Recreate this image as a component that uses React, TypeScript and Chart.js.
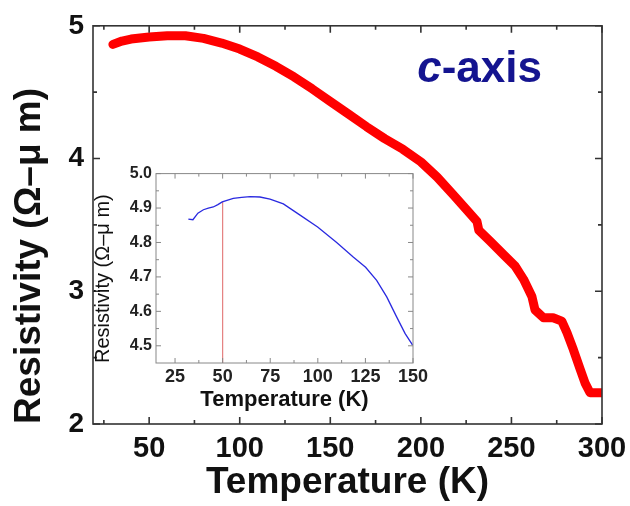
import { useEffect, useRef } from "react";
import { Chart, registerables } from "chart.js";

Chart.register(...registerables);

const FONT = "'Liberation Sans', Arial, Helvetica, sans-serif";

// Main panel: c-axis resistivity vs temperature
const mainT = [30, 35, 40, 50, 60, 70, 80, 90, 100, 110, 120, 130, 140, 150, 160, 170, 180, 190, 200, 209, 218, 225.5, 231, 232, 238.4, 245.7, 252, 256.7, 261.3, 263, 267.7, 273, 277.8, 280.6, 284.2, 288, 290.6, 293.4, 300];
const mainRho = [4.86, 4.885, 4.9, 4.915, 4.925, 4.925, 4.905, 4.87, 4.825, 4.765, 4.695, 4.615, 4.525, 4.43, 4.335, 4.24, 4.15, 4.07, 3.975, 3.86, 3.725, 3.61, 3.525, 3.46, 3.375, 3.275, 3.19, 3.09, 2.96, 2.86, 2.8, 2.8, 2.775, 2.69, 2.56, 2.41, 2.31, 2.235, 2.235];
const mainXTicks = [50, 100, 150, 200, 250, 300];
const mainXMinor = [25, 75, 125, 175, 225, 275];
const mainYTicks = [2, 3, 4, 5];
const mainYMinor = [2.5, 3.5, 4.5];

// Inset: low-temperature detail
const insetT = [32, 34.4, 37, 39.9, 42.5, 45.1, 47.5, 49.8, 55.6, 60, 64.4, 69.6, 74.9, 81.9, 89.7, 99.9, 109.9, 118.6, 125.1, 130.9, 136.2, 141.4, 145.8, 149.8];
const insetRho = [4.868, 4.866, 4.885, 4.895, 4.9, 4.903, 4.91, 4.918, 4.928, 4.931, 4.933, 4.932, 4.926, 4.912, 4.883, 4.845, 4.8, 4.758, 4.728, 4.69, 4.642, 4.584, 4.536, 4.502];
const insetXTicks = [25, 50, 75, 100, 125, 150];
const insetXMinor = [37.5, 62.5, 87.5, 112.5, 137.5];
const insetYTicks = [4.5, 4.6, 4.7, 4.8, 4.9, 5.0];
const insetYMinor = [4.55, 4.65, 4.75, 4.85, 4.95];
const markerT = [50, 50];
const markerRho = [4.45, 4.918];

function framePlugin(id: string, color: string, lw: number, major: number, minor: number,
  xMaj: number[], xMin: number[], yMaj: number[], yMin: number[]) {
  return {
    id,
    afterDatasetsDraw(chart: any) {
      const { ctx, chartArea: a, scales } = chart;
      const xs = scales.x, ys = scales.y;
      ctx.save();
      ctx.strokeStyle = color;
      ctx.lineWidth = lw;
      ctx.strokeRect(a.left, a.top, a.right - a.left, a.bottom - a.top);
      const dx = (vals: number[], len: number) => vals.forEach((v) => {
        const p = xs.getPixelForValue(v);
        ctx.beginPath();
        ctx.moveTo(p, a.bottom); ctx.lineTo(p, a.bottom - len);
        ctx.moveTo(p, a.top); ctx.lineTo(p, a.top + len);
        ctx.stroke();
      });
      const dy = (vals: number[], len: number) => vals.forEach((v) => {
        const p = ys.getPixelForValue(v);
        ctx.beginPath();
        ctx.moveTo(a.left, p); ctx.lineTo(a.left + len, p);
        ctx.moveTo(a.right, p); ctx.lineTo(a.right - len, p);
        ctx.stroke();
      });
      dx(xMaj, major); dx(xMin, minor); dy(yMaj, major); dy(yMin, minor);
      ctx.restore();
    },
  };
}

const labelPlugin = {
  id: "caxisLabel",
  afterDraw(chart: any) {
    const { ctx, scales } = chart;
    const x = scales.x.getPixelForValue(198);
    const y = scales.y.getPixelForValue(4.58);
    ctx.save();
    ctx.fillStyle = "#141490";
    ctx.textBaseline = "alphabetic";
    ctx.textAlign = "left";
    ctx.font = `italic bold 44px ${FONT}`;
    ctx.fillText("c", x, y);
    const w = ctx.measureText("c").width;
    ctx.font = `bold 44px ${FONT}`;
    ctx.fillText("-axis", x + w, y);
    ctx.restore();
  },
};

const noSidePad = (s: any) => { s.paddingLeft = 0; s.paddingRight = 0; };

export default function App() {
  const mainRef = useRef<HTMLCanvasElement>(null);
  const insetRef = useRef<HTMLCanvasElement>(null);

  useEffect(() => {
    Chart.defaults.font.family = FONT;
    const main = new Chart(mainRef.current!, {
      type: "line",
      data: {
        datasets: [{
          data: mainT.map((t, i) => ({ x: t, y: mainRho[i] })),
          borderColor: "#ff0000",
          borderWidth: 9,
          pointRadius: 0,
          tension: 0,
          borderCapStyle: "round",
          borderJoinStyle: "round",
        }],
      },
      options: {
        responsive: false,
        animation: false,
        devicePixelRatio: 1,
        layout: { padding: { top: 25, right: 28, left: 0, bottom: 0 } },
        plugins: { legend: { display: false }, tooltip: { enabled: false } },
        scales: {
          x: {
            type: "linear", min: 19, max: 300,
            grid: { display: false, drawTicks: false },
            border: { display: false },
            afterBuildTicks: (s: any) => { s.ticks = mainXTicks.map((v) => ({ value: v })); },
            afterFit: (s: any) => { s.height = 82; noSidePad(s); },
            ticks: { font: { size: 29, weight: "bold" }, color: "#111", padding: 8, maxRotation: 0, autoSkip: false },
            title: { display: true, text: "Temperature (K)", color: "#111", font: { size: 37, weight: "bold" }, padding: { top: 0, bottom: 1 } },
          },
          y: {
            type: "linear", min: 2, max: 5,
            grid: { display: false, drawTicks: false },
            border: { display: false },
            afterBuildTicks: (s: any) => { s.ticks = mainYTicks.map((v) => ({ value: v })); },
            afterFit: (s: any) => { s.width = 93; },
            ticks: { font: { size: 28, weight: "bold" }, color: "#111", padding: 9 },
            title: { display: true, text: "Resistivity (Ω–μ m)", align: "start", color: "#111", font: { size: 37, weight: "bold" }, padding: { top: 8, bottom: 0 } },
          },
        },
      } as any,
      plugins: [framePlugin("mainFrame", "#333", 1.6, 7, 4, mainXTicks, mainXMinor, mainYTicks, mainYMinor), labelPlugin],
    });

    const inset = new Chart(insetRef.current!, {
      type: "line",
      data: {
        datasets: [
          {
            data: insetT.map((t, i) => ({ x: t, y: insetRho[i] })),
            borderColor: "#2a2ae0",
            borderWidth: 1.3,
            pointRadius: 0,
            tension: 0,
          },
          {
            data: markerT.map((t, i) => ({ x: t, y: markerRho[i] })),
            borderColor: "#e58080",
            borderWidth: 1.2,
            pointRadius: 0,
            tension: 0,
          },
        ],
      },
      options: {
        responsive: false,
        animation: false,
        devicePixelRatio: 1,
        layout: { padding: { top: 13, right: 15, left: 0, bottom: 0 } },
        plugins: { legend: { display: false }, tooltip: { enabled: false } },
        scales: {
          x: {
            type: "linear", min: 15, max: 150,
            grid: { display: false, drawTicks: false },
            border: { display: false },
            afterBuildTicks: (s: any) => { s.ticks = insetXTicks.map((v) => ({ value: v })); },
            afterFit: (s: any) => { s.height = 62; noSidePad(s); },
            ticks: { font: { size: 18, weight: "bold" }, color: "#222", padding: 3, maxRotation: 0, autoSkip: false },
            title: { display: true, text: "Temperature (K)", color: "#111", font: { size: 22, weight: "bold" }, padding: { top: 0, bottom: 12 } },
          },
          y: {
            type: "linear", min: 4.45, max: 5.0,
            grid: { display: false, drawTicks: false },
            border: { display: false },
            afterBuildTicks: (s: any) => { s.ticks = insetYTicks.map((v) => ({ value: v })); },
            afterFit: (s: any) => { s.width = 68; },
            ticks: { font: { size: 16, weight: "bold" }, color: "#222", padding: 4, callback: (v: any) => Number(v).toFixed(1) },
            title: { display: true, text: "Resistivity (Ω–μ m)", align: "start", color: "#111", font: { size: 20, weight: "normal" }, padding: { top: 3, bottom: 0 } },
          },
        },
      } as any,
      plugins: [framePlugin("insetFrame", "#888", 1, 5, 3, insetXTicks, insetXMinor, insetYTicks, insetYMinor)],
    });

    return () => { main.destroy(); inset.destroy(); };
  }, []);

  return (
    <div style={{ position: "fixed", left: 0, top: 0, width: 630, height: 506, background: "#fff" }}>
      <canvas ref={mainRef} width={630} height={506} style={{ position: "absolute", left: 0, top: 0 }} />
      <canvas ref={insetRef} width={340} height={265} style={{ position: "absolute", left: 88, top: 160 }} />
    </div>
  );
}
